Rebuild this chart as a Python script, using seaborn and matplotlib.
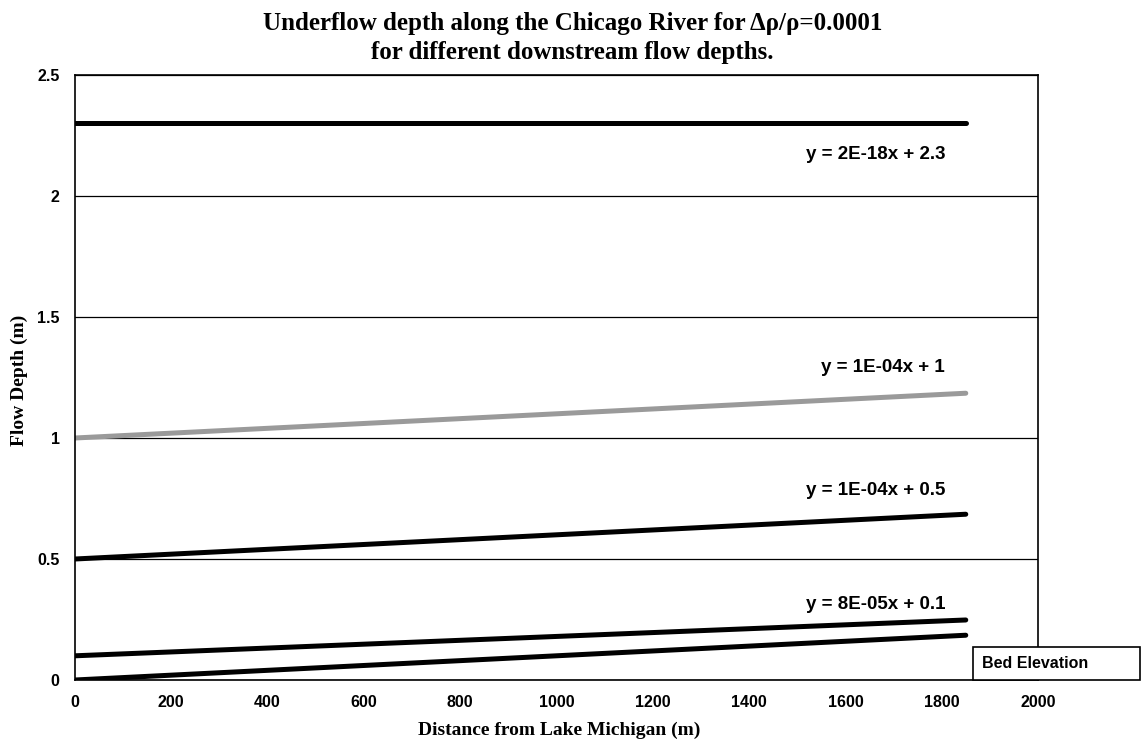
import matplotlib
matplotlib.use("Agg")
import matplotlib.pyplot as plt
import seaborn as sns
import pandas as pd

# ---- data ----
distance = [0, 1850]
depth_23 = [2.30, 2.30]
depth_10 = [1.00, 1.185]
depth_05 = [0.50, 0.685]
depth_01 = [0.10, 0.248]
bed_elev = [0.00, 0.185]

eq_labels = ["y = 2E-18x + 2.3", "y = 1E-04x + 1", "y = 1E-04x + 0.5", "y = 8E-05x + 0.1"]
eq_pos_y = [2.17, 1.29, 0.785, 0.314]
x_ticks = [0, 200, 400, 600, 800, 1000, 1200, 1400, 1600, 1800, 2000]
y_ticks = [0, 0.5, 1, 1.5, 2, 2.5]
y_tick_labels = ["0", "0.5", "1", "1.5", "2", "2.5"]

sns.set_style("white")
plt.rcParams["font.family"] = ["Liberation Sans", "DejaVu Sans"]
plt.rcParams["text.color"] = "black"
plt.rcParams["axes.labelcolor"] = "black"
serif = ["Liberation Serif", "DejaVu Serif"]

fig = plt.figure(figsize=(11.45, 7.48), dpi=100)
ax = fig.add_axes([75 / 1145, 68 / 748, 963 / 1145, 605 / 748])

series = [
    ("2.3", depth_23, "black"),
    ("1", depth_10, "#9a9a9a"),
    ("0.5", depth_05, "black"),
    ("0.1", depth_01, "black"),
]
for name, vals, col in series:
    df = pd.DataFrame({"x": distance, "y": vals})
    sns.lineplot(data=df, x="x", y="y", ax=ax, color=col, linewidth=3.6, legend=False)

df_bed = pd.DataFrame({"x": distance, "y": bed_elev})
sns.lineplot(data=df_bed, x="x", y="y", ax=ax, color="black", linewidth=3.6,
             label="Bed Elevation")

ax.set_xlim(0, 2000)
ax.set_ylim(0, 2.5)
ax.set_xticks(x_ticks)
ax.set_yticks(y_ticks)
ax.set_yticklabels(y_tick_labels)
ax.yaxis.grid(True, color="black", linewidth=0.9)
ax.xaxis.grid(False)
ax.set_axisbelow(True)
for s in ax.spines.values():
    s.set_color("black")
    s.set_linewidth(1.2)
ax.tick_params(axis="both", direction="out", length=5, width=1, color="black",
               labelsize=11.5, labelcolor="black", pad=6)
for lab in ax.get_xticklabels() + ax.get_yticklabels():
    lab.set_fontweight("bold")

for txt, yy in zip(eq_labels, eq_pos_y):
    ax.text(1807, yy, txt, ha="right", va="center", fontsize=13.5, fontweight="bold",
            color="black")

ax.set_xlabel("")
ax.set_ylabel("")
fig.text(559 / 1145, 1 - 730 / 748, "Distance from Lake Michigan (m)", ha="center",
         va="center", fontsize=14, fontweight="bold", family=serif, color="black")
fig.text(19 / 1145, 1 - 380 / 748, "Flow Depth (m)", ha="center", va="center",
         rotation=90, fontsize=14, fontweight="bold", family=serif, color="black")

fig.text(0.5, 0.968, "Underflow depth along the Chicago River for Δρ/ρ=0.0001",
         ha="center", va="center", fontsize=18, fontweight="bold", family=serif,
         color="black")
fig.text(0.5, 0.930, "for different downstream flow depths.",
         ha="center", va="center", fontsize=18, fontweight="bold", family=serif,
         color="black")

leg = ax.legend(loc="lower left",
                bbox_to_anchor=(973 / 1145, 1 - 680 / 748, 167 / 1145, 33 / 748),
                bbox_transform=fig.transFigure, mode="expand",
                handlelength=0, handletextpad=0, frameon=True, fancybox=False,
                edgecolor="black", framealpha=1, borderpad=0.55, borderaxespad=0,
                prop={"weight": "bold", "size": 11.5})
leg.get_frame().set_linewidth(1.2)
for h in leg.legend_handles:
    h.set_visible(False)
for t in leg.get_texts():
    t.set_color("black")

fig.savefig("out.png", dpi=100)
